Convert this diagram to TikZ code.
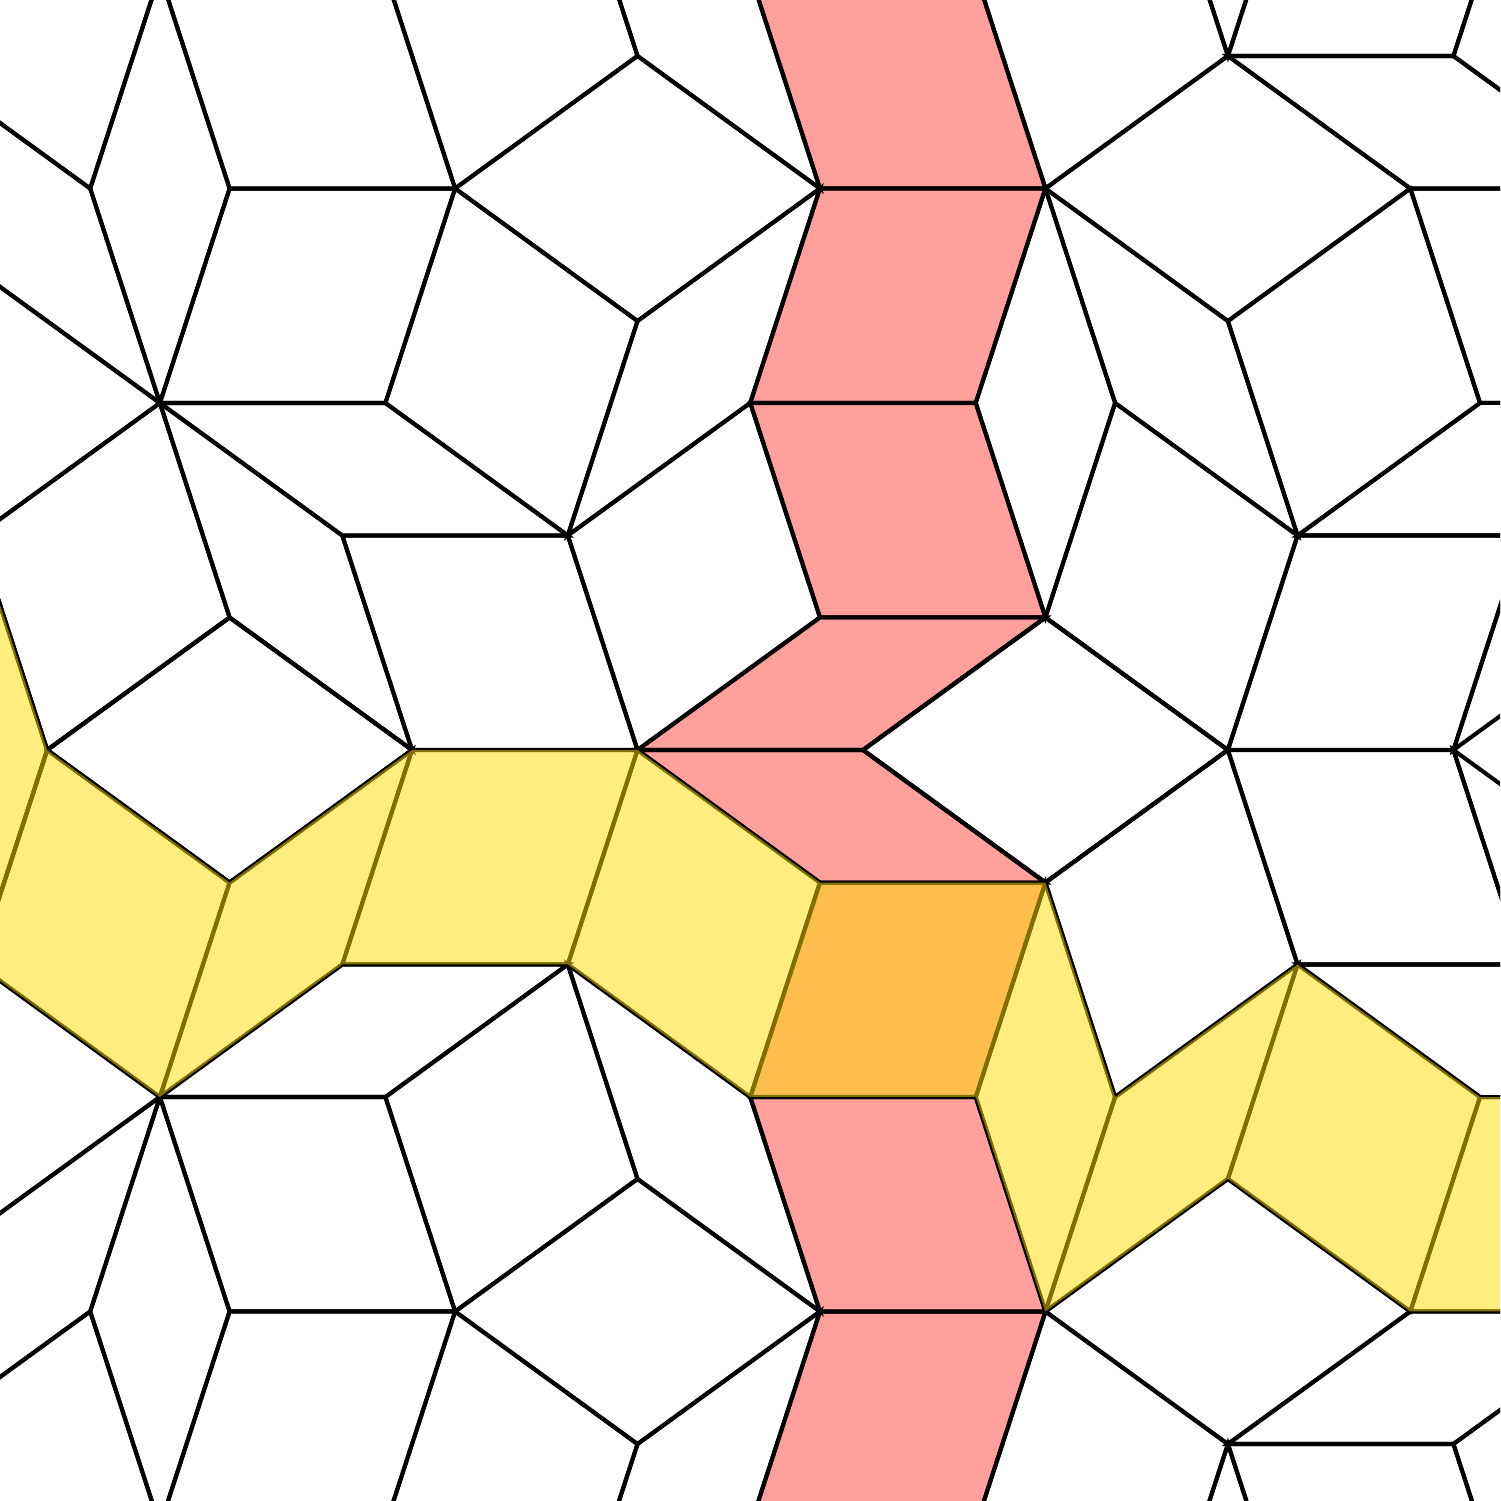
\documentclass[tikz,border=0pt]{standalone}
\usepackage{xcolor}
\definecolor{wormred}{RGB}{255,160,157}
\definecolor{wormyellow}{RGB}{255,220,0}
\tikzset{
  tile/.style={black, line width=1.15pt},
  redworm/.style={fill=wormred},
  yellowworm/.style={fill=wormyellow, fill opacity=0.5}
}
\newcommand{\edgelen}{2.255}
% rhombus: corner (x,y) and the two edge directions
\newcommand{\rhomb}[4]{(#1,#2) -- ++(#3:\edgelen) -- ++(#4:\edgelen) -- ++(#3+180:\edgelen) -- cycle}
% upper half of the tiling, mirrored for the lower half
\newcommand{\halftiles}{%
  \foreach \x/\y/\p/\q in {1.599/3.470/108/72, 1.599/3.470/108/144, 1.599/3.470/144/-144,
      1.599/3.470/0/-36, 1.599/3.470/0/72, 4.551/5.615/36/-36, 4.551/5.615/-36/-108,
      5.678/2.145/36/72, 6.375/6.940/-36/108, 4.551/5.615/36/108, 2.296/5.615/0/108,
      0.902/5.615/144/72, 1.599/3.470/-36/-72, 1.599/3.470/-144/-72, -0.225/2.145/-72/-108,
      3.423/2.145/0/-72, 5.678/2.145/36/-72, 8.199/5.615/0/-108, 7.503/3.470/0/-72,
      6.375/0/36/0, 7.503/7.760/0/-72, 9.758/7.760/-72/36, 10.454/5.615/-72/-108,
      10.454/5.615/36/-36, 10.454/5.615/-36/-72, 12.279/4.289/36/-72, 12.279/6.940/0/-36,
      14.103/5.615/0/-72, 12.976/2.145/36/0, 11.151/3.470/-36/-108, 12.976/2.145/0/-108,
      10.454/1.325/-36/-144, 12.279/6.940/108/72, 12.279/6.940/0/72, 14.534/6.940/-36/72,
      0.472/0/36/-36, 14.534/0/72/36}
    \draw[tile] \rhomb{\x}{\y}{\p}{\q};%
}

\begin{document}
\begin{tikzpicture}
  \useasboundingbox (0,-7.51) rectangle (15,7.5);
  \clip (0,-7.51) rectangle (15,7.5);

  % red worm (under the edges)
  \fill[redworm] \foreach \x/\y/\p/\q in {7.503/7.760/0/-72, 8.199/5.615/0/-108,
      7.503/3.470/0/-72, 6.375/0/36/0, 6.375/0/-36/0, 8.199/-1.325/0/-108,
      8.199/-5.615/0/108, 7.503/-7.760/0/72} {\rhomb{\x}{\y}{\p}{\q}};

  \halftiles
  \begin{scope}[yscale=-1]
    \halftiles
  \end{scope}

  % yellow worm (over the edges)
  \fill[yellowworm] \foreach \x/\y/\p/\q in {-0.225/2.145/-72/-108, 0.472/0/-36/-108,
      2.296/-1.325/36/-108, 4.120/0/0/-108, 6.375/0/-36/-108, 8.199/-1.325/0/-108,
      10.454/-1.325/-72/-108, 11.151/-3.470/36/-108, 12.976/-2.145/-36/-108,
      14.800/-3.470/0/-108} {\rhomb{\x}{\y}{\p}{\q}};
\end{tikzpicture}
\end{document}
